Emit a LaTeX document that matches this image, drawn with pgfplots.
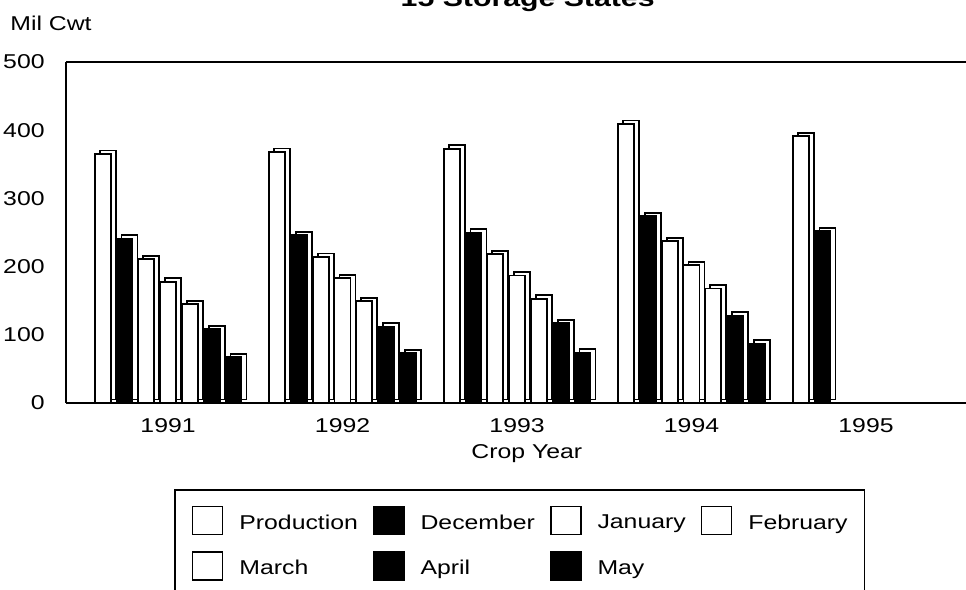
\documentclass[border=0pt]{standalone}
\usepackage{fontspec}
\setmainfont[FakeStretch=1.24]{Liberation Sans}
\usepackage{pgfplots}
\usepackage{pgfplotstable}
\pgfplotsset{compat=1.18}
\pgfplotstableread{
x prod dec jan feb mar apr may
0 365 241 211 178 145 108 67
1 368 246 214 183 149 112 73
2 373 250 218 187 153 117 74
3 409 274 237 202 168 128 87
4 391 252 nan nan nan nan nan
}\datatable
\pgfplotsset{
  front/.style={draw=black, line width=0.9pt, bar width=8pt,
    legend image code/.code={\draw[##1, line width=0.8pt] (0pt,-5.6pt) rectangle (15pt,8.4pt);}},
  back/.style={draw=black, fill=white, line width=0.9pt, bar width=8pt, forget plot, yshift=1.75pt},
}
\begin{document}
\begin{tikzpicture}
\useasboundingbox (-33pt,-93.5pt) rectangle (450pt,201.5pt);
\begin{axis}[
  at={(0,0)}, anchor=south west,
  scale only axis, width=450pt, height=170.5pt,
  xmin=-0.585, xmax=4.573, ymin=0, ymax=500,
  ybar, clip=false,
  axis x line=bottom, axis y line=left,
  axis line style={-, line width=1pt},
  major tick length=0pt,
  ytick={0,100,200,300,400,500},
  xtick={0,1,2,3,4},
  xticklabels={1991,1992,1993,1994,1995},
  /pgf/number format/assume math mode=true,
  tick label style={font=\fontsize{10}{12}\selectfont},
  xticklabel style={inner sep=0pt, anchor=north, yshift=-7.5pt},
  yticklabel style={inner sep=0pt, anchor=east, xshift=-10.5pt},
  ylabel={Mil Cwt},
  every axis y label/.style={at={(axis description cs:0,1)}, anchor=west, inner sep=0pt,
    xshift=-28pt, yshift=19.5pt, font=\fontsize{10}{12}\selectfont},
  xlabel={Crop Year},
  every axis x label/.style={at={(axis description cs:0.512,0)}, anchor=north, inner sep=0pt,
    yshift=-20.5pt, font=\fontsize{10}{12}\selectfont},
  title={15 Storage States},
  every axis title/.style={at={(axis description cs:0.513,1)}, anchor=base, inner sep=0pt,
    yshift=28pt, font=\bfseries\fontsize{12.2}{14}\selectfont},
  legend columns=4,
  legend cell align=left,
  legend style={at={(axis description cs:0.12,-0.2522)}, anchor=north west,
    draw=black, line width=0.8pt, inner xsep=8.5pt, inner ysep=8pt,
    font=\fontsize{10}{12}\selectfont, row sep=8pt,
    nodes={inner sep=0pt},
    /tikz/every odd column/.append style={column sep=8pt},
    /tikz/every even column/.append style={column sep=7.5pt}},
]
% depth (side and top faces)
\addplot[back, bar shift=-30.2pt] table[x=x,y=prod]{\datatable};
\addplot[back, bar shift=-19.3pt] table[x=x,y=dec]{\datatable};
\addplot[back, bar shift=-8.4pt] table[x=x,y=jan]{\datatable};
\addplot[back, bar shift=2.5pt] table[x=x,y=feb]{\datatable};
\addplot[back, bar shift=13.4pt] table[x=x,y=mar]{\datatable};
\addplot[back, bar shift=24.3pt] table[x=x,y=apr]{\datatable};
\addplot[back, bar shift=35.2pt] table[x=x,y=may]{\datatable};
% front faces
\addplot[front, fill=white, bar shift=-32.7pt] table[x=x,y=prod]{\datatable};
\addplot[front, fill=black, bar shift=-21.8pt] table[x=x,y=dec]{\datatable};
\addplot[front, fill=white, bar shift=-10.9pt] table[x=x,y=jan]{\datatable};
\addplot[front, fill=white, bar shift=0pt] table[x=x,y=feb]{\datatable};
\addplot[front, fill=white, bar shift=10.9pt] table[x=x,y=mar]{\datatable};
\addplot[front, fill=black, bar shift=21.8pt] table[x=x,y=apr]{\datatable};
\addplot[front, fill=black, bar shift=32.7pt] table[x=x,y=may]{\datatable};
\legend{Production,December,January,February,March,April,May}
\draw[line width=0.8pt] (rel axis cs:0,1) -- (rel axis cs:1,1);
\end{axis}
\end{tikzpicture}
\end{document}
